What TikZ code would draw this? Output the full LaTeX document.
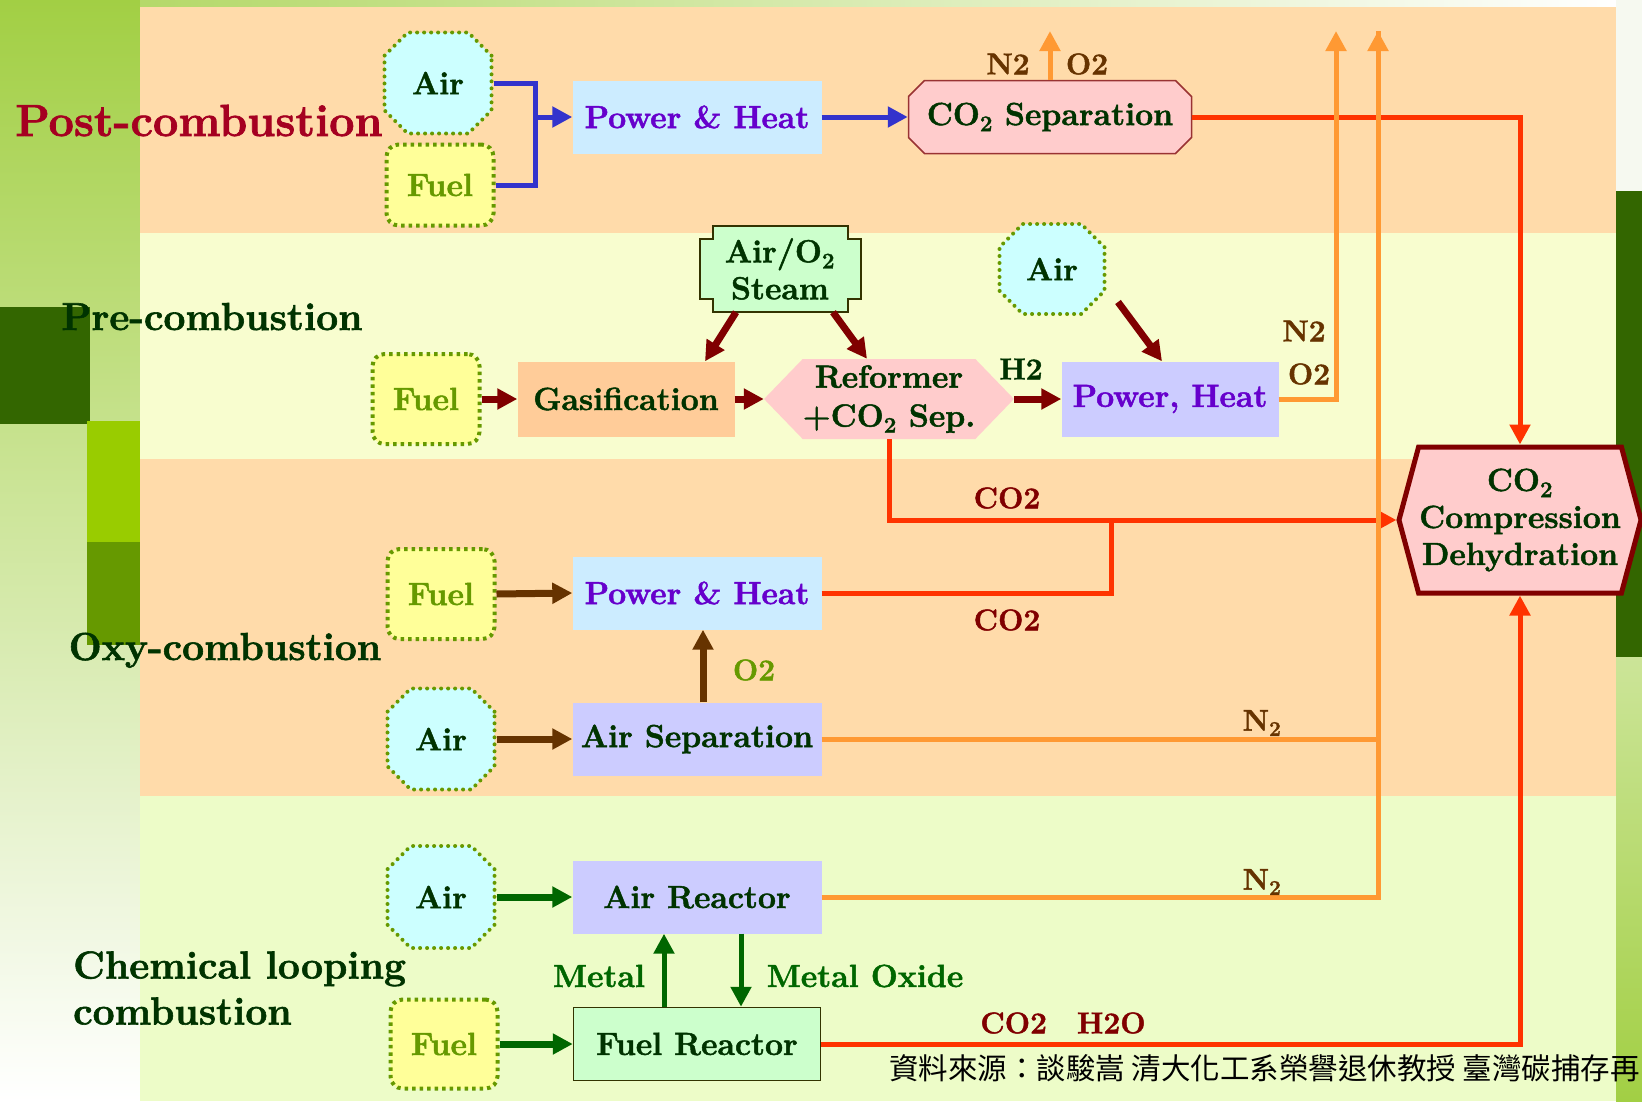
\documentclass[tikz,border=0pt]{standalone}
\usepackage{fontspec}
\setmainfont{Latin Modern Roman}[BoldFeatures={FakeBold=1.5}]
\newfontfamily\cjkfont{Noto Sans CJK TC}
\usetikzlibrary{arrows.meta, positioning, shapes.misc, shapes.symbols}

\definecolor{peach}{HTML}{FFDBAA}
\definecolor{paleyellow}{HTML}{F8FDCF}
\definecolor{palegreen}{HTML}{EDFCC8}
\definecolor{leafdark}{HTML}{336600}
\definecolor{leaflime}{HTML}{99CC00}
\definecolor{leafolive}{HTML}{669900}
\definecolor{leaflight}{HTML}{A2CF44}
\definecolor{darktext}{HTML}{003300}
\definecolor{purpletext}{HTML}{6600CC}
\definecolor{crimsontext}{HTML}{A50021}
\definecolor{browntext}{HTML}{663300}
\definecolor{marooncol}{HTML}{800000}
\definecolor{bluecol}{HTML}{3333CC}
\definecolor{orangecol}{HTML}{FF9933}
\definecolor{redcol}{HTML}{FF3300}
\definecolor{greencol}{HTML}{006600}
\definecolor{aircyan}{HTML}{CCFFFF}
\definecolor{fuelyellow}{HTML}{FFFF99}
\definecolor{skyfill}{HTML}{CCECFF}
\definecolor{lilacfill}{HTML}{CCCCFF}
\definecolor{pinkfill}{HTML}{FFCCCC}
\definecolor{apricotfill}{HTML}{FFCC99}
\definecolor{mintfill}{HTML}{CCFFCC}
\definecolor{sepborder}{HTML}{993333}
\definecolor{mintborder}{HTML}{333300}

\begin{document}
\begin{tikzpicture}[
            x=1pt, y=-1pt,
            >={Triangle[length=20pt, width=20pt]},
            every node/.style={
                inner sep=0pt,
                align=center,
                text=darktext,
                font=\bfseries\fontsize{32}{37}\selectfont
            },
            airfeed/.style={
                chamfered rectangle,
                chamfered rectangle xsep=12pt,
                chamfered rectangle ysep=12pt,
                minimum width=107pt,
                minimum height=101pt,
                fill=aircyan,
                draw=leafolive,
                line width=4pt,
                line cap=round,
                dash pattern=on 0pt off 7pt
            },
            fuelfeed/.style={
                rectangle,
                rounded corners=12pt,
                minimum width=107pt,
                minimum height=88pt,
                fill=fuelyellow,
                draw=leafolive,
                line width=4pt,
                dash pattern=on 3.5pt off 4pt,
                text=leafolive
            },
            block/.style={
                rectangle,
                minimum width=249pt,
                minimum height=73pt
            },
            hexblock/.style={
                signal,
                signal to=west and east,
                fill=pinkfill
            },
            stage/.style={
                font=\bfseries\fontsize{39}{46}\selectfont
            },
            flowtag/.style={
                font=\bfseries\fontsize{30}{34}\selectfont
            },
            pipe/.style={
                line width=5pt
            },
            thickpipe/.style={
                line width=7pt
            }
        ]
            % Frame and background
            \useasboundingbox (0,0) rectangle (1642,1101);
            \clip (0,0) rectangle (1642,1101);
            \shade [top color=leaflight, bottom color=white] (0,0) rectangle (140,1101);
            \shade [left color=leaflight!80, right color=white] (140,0) rectangle (1616,7);
            \fill [white!94!leafolive] (1616,0) rectangle (1642,191);
            \shade [top color=leaflight!55, bottom color=leaflight] (1616,657) rectangle (1642,1101);
            \fill [leafdark] (0,307) rectangle (90,424);
            \fill [leaflime] (87,421) rectangle (140,542);
            \fill [leafolive] (87,542) rectangle (140,645);
            \fill [leafdark] (1616,191) rectangle (1642,657);

            % Bands
            \fill [peach] (140,7) rectangle (1616,233);
            \fill [paleyellow] (140,233) rectangle (1616,459);
            \fill [peach] (140,459) rectangle (1616,796);
            \fill [palegreen] (140,796) rectangle (1616,1101);

            % Row titles
            \node [stage, anchor=base, text=crimsontext, font=\bfseries\fontsize{45}{50}\selectfont] (postlabel) at (199,136) {Post-combustion};
            \node [stage, anchor=base] (prelabel) at (212,330) {Pre-combustion};
            \node [stage, anchor=base] (oxylabel) at (225,660) {Oxy-combustion};
            \node [stage, anchor=west, align=left] (cllabel) at (73,988) {Chemical looping\\combustion};

            % Post-combustion
            \node [airfeed] (airpost) at (438,83) {Air};
            \node [fuelfeed, minimum height=81pt] (fuelpost) at (440,185) {Fuel};
            \node [block, fill=skyfill, text=purpletext] (heatpost) at (697,117) {Power \& Heat};
            \node [chamfered rectangle, chamfered rectangle xsep=8pt, chamfered rectangle ysep=8pt,
                minimum width=283pt, minimum height=73pt, fill=pinkfill, draw=sepborder, line width=1.5pt]
                (seppost) at (1050,117) {CO\textsubscript{2} Separation};

            % Pre-combustion
            \draw [fill=mintfill, draw=mintborder, line width=1.5pt]
                (700,239) -- (713,239) -- (713,226) -- (848,226) -- (848,239) -- (861,239)
                -- (861,299) -- (848,299) -- (848,312) -- (713,312) -- (713,299) -- (700,299) -- cycle;
            \node [minimum width=161pt, minimum height=86pt] (steam) at (780,269) {Air/O\textsubscript{2}\\Steam};
            \node [fuelfeed, minimum height=90pt] (fuelpre) at (426,399) {Fuel};
            \node [block, minimum width=217pt, minimum height=75pt, fill=apricotfill] (gasif) at (626,399) {Gasification};
            \node [hexblock, signal pointer angle=92, minimum width=243pt, minimum height=80pt, font=\bfseries\fontsize{32}{39}\selectfont]
                (reformer) at (889,399) {Reformer\\+CO\textsubscript{2} Sep.};
            \node [airfeed, minimum width=105pt, minimum height=90pt] (airpre) at (1052,269) {Air};
            \node [block, minimum width=217pt, minimum height=75pt, fill=lilacfill, text=purpletext] (powerpre) at (1170,399) {Power, Heat};

            % Oxy-combustion
            \node [fuelfeed, minimum height=90pt] (fueloxy) at (441,594) {Fuel};
            \node [block, fill=skyfill, text=purpletext] (heatoxy) at (697,593) {Power \& Heat};
            \node [airfeed] (airoxy) at (441,739) {Air};
            \node [block, fill=lilacfill] (airsep) at (697,739) {Air Separation};

            % Chemical looping
            \node [airfeed, minimum height=102pt] (aircl) at (441,897) {Air};
            \node [block, fill=lilacfill] (airreact) at (697,897) {Air Reactor};
            \node [fuelfeed, minimum height=89pt] (fuelcl) at (444,1044) {Fuel};
            \node [block, minimum width=247pt, fill=mintfill, draw=mintborder, line width=1.5pt] (fuelreact) at (697,1044) {Fuel Reactor};

            % CO2 compression
            \node [hexblock, signal pointer angle=150, minimum width=242pt, minimum height=146pt,
                draw=marooncol, line width=5pt] (comp) at (1520,520) {CO\textsubscript{2}\\Compression\\Dehydration};

            % Post-combustion flows
            \coordinate (postjoin) at (535,117);
            \draw [pipe, bluecol] (airpost.east) -| (postjoin);
            \draw [pipe, bluecol] (fuelpost.east) -| (postjoin);
            \draw [pipe, bluecol, ->] (postjoin) -- (heatpost.west);
            \draw [pipe, bluecol, ->] (heatpost.east) -- (seppost.west);

            % Pre-combustion flows
            \draw [thickpipe, marooncol, ->] (fuelpre.east) -- (gasif.west);
            \draw [thickpipe, marooncol, ->] (gasif.east) -- (reformer.west);
            \draw [thickpipe, marooncol, ->] (reformer.east) -- (powerpre.west);
            \draw [thickpipe, marooncol, ->] ([xshift=-44pt]steam.south) -- ([xshift=79pt]gasif.north);
            \draw [thickpipe, marooncol, ->] ([xshift=53pt]steam.south) -- ([xshift=-22pt]reformer.north);
            \draw [thickpipe, marooncol, ->] ([xshift=66pt, yshift=14pt]airpre.south) -- ([xshift=-8pt]powerpre.north);

            % Oxy-combustion flows
            \draw [thickpipe, browntext, ->] (fueloxy.east) -- (heatoxy.west);
            \draw [thickpipe, browntext, ->] (airoxy.east) -- (airsep.west);
            \draw [thickpipe, browntext, ->] ([xshift=6pt]airsep.north) -- ([xshift=6pt]heatoxy.south);

            % Chemical looping flows
            \draw [thickpipe, greencol, ->] (aircl.east) -- (airreact.west);
            \draw [thickpipe, greencol, ->] (fuelcl.east) -- (fuelreact.west);
            \draw [pipe, greencol, ->] ([xshift=-33pt]fuelreact.north) -- ([xshift=-33pt]airreact.south);
            \draw [pipe, greencol, ->] ([xshift=44pt]airreact.south) -- ([xshift=44pt]fuelreact.north);

            % CO2 lines
            \coordinate (co2join) at (1111,520);
            \draw [pipe, redcol, ->] (seppost.east) -| (comp.north);
            \draw [pipe, redcol, ->] (reformer.south) |- (comp.west);
            \draw [pipe, redcol] (heatoxy.east) -| (co2join);
            \draw [pipe, redcol, ->] (fuelreact.east) -| (comp.south);

            % N2 / O2 vents
            \coordinate (sepvent) at (1050,31);
            \coordinate (vent1) at (1336,31);
            \coordinate (vent2) at (1378,31);
            \draw [pipe, orangecol, ->] (seppost.north) -- (sepvent);
            \draw [pipe, orangecol, ->] (powerpre.east) -| (vent1);
            \draw [pipe, orangecol, ->] (airsep.east) -| (vent2);
            \draw [pipe, orangecol] (airreact.east) -| (vent2);

            % Stream labels
            \node [flowtag, text=browntext] (n2post) at (1008,64) {N2};
            \node [flowtag, text=browntext] (o2post) at (1087,64) {O2};
            \node [flowtag] (h2pre) at (1021,369) {H2};
            \node [flowtag, text=browntext] (n2pre) at (1304,331) {N2};
            \node [flowtag, text=browntext] (o2pre) at (1309,374) {O2};
            \node [flowtag, text=marooncol] (co2pre) at (1007,498) {CO2};
            \node [flowtag, text=marooncol] (co2oxy) at (1007,620) {CO2};
            \node [flowtag, text=leafolive] (o2oxy) at (754,670) {O2};
            \node [flowtag, text=browntext] (n2oxy) at (1262,723) {N\textsubscript{2}};
            \node [flowtag, text=browntext] (n2cl) at (1262,882) {N\textsubscript{2}};
            \node [flowtag, text=greencol, font=\bfseries\fontsize{32}{37}\selectfont] (metal) at (599,976) {Metal};
            \node [flowtag, text=greencol, font=\bfseries\fontsize{32}{37}\selectfont] (metaloxide) at (865,976) {Metal Oxide};
            \node [flowtag, text=marooncol] (co2cl) at (1063,1023) {CO2\hspace{30pt}H2O};

            % Source note
            \node [anchor=west, text=black, font=\cjkfont\fontsize{29.5}{33}\selectfont] (source) at (889,1068)
                {資料來源：談駿嵩 清大化工系榮譽退休教授 臺灣碳捕存再};
        \end{tikzpicture}
\end{document}
